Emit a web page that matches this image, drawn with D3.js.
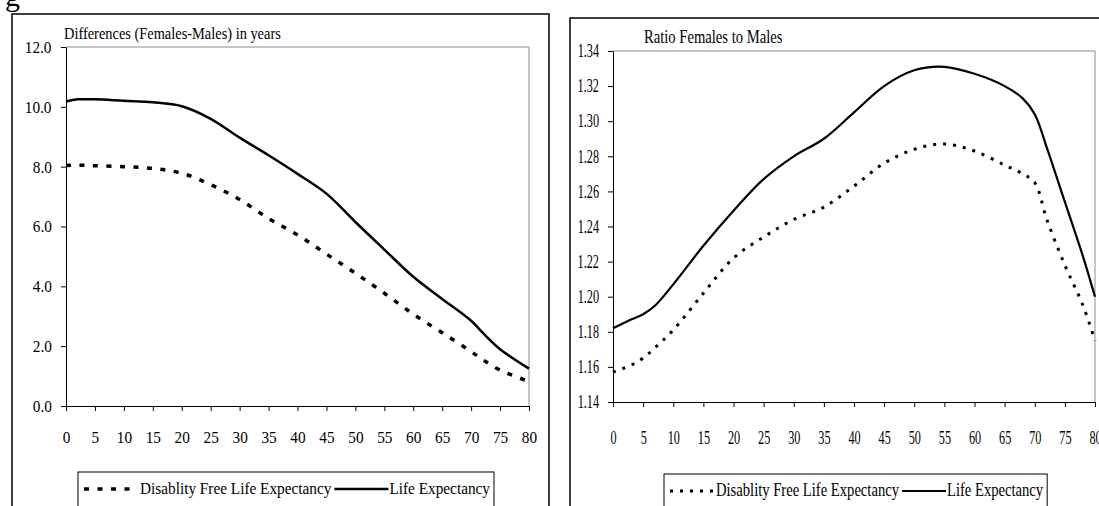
<!DOCTYPE html>
<html>
<head>
<meta charset="utf-8">
<script src="https://cdn.jsdelivr.net/npm/d3@7"></script>
<style>
  body { margin: 0; background: #fff; overflow: hidden; }
  text { font-family: "Liberation Serif", "Times New Roman", serif; fill: #000; }
  .condC { transform-box: fill-box; transform-origin: center; }
  .condL { transform-box: fill-box; transform-origin: left center; }
</style>
</head>
<body>
<div id="content"></div>
<script>
// ages (x) and values
const diffAges = [0, 2, 5, 10, 15, 20, 25, 30, 35, 40, 45, 50, 55, 60, 65, 70, 72, 75, 80];
const diffLE   = [10.18, 10.25, 10.25, 10.2, 10.15, 10.02, 9.6, 8.97, 8.38, 7.76, 7.1, 6.15, 5.23, 4.32, 3.58, 2.85, 2.45, 1.9, 1.25];
const diffDFLE = [8.04, 8.05, 8.03, 8.0, 7.94, 7.78, 7.4, 6.9, 6.27, 5.72, 5.08, 4.44, 3.77, 3.07, 2.45, 1.82, 1.55, 1.2, 0.82];

const ratioAges = [0, 3, 5, 7, 10, 15, 20, 25, 30, 35, 40, 45, 50, 55, 60, 65, 68, 70, 72, 75, 78, 80];
const ratioLE   = [1.182, 1.187, 1.190, 1.195, 1.207, 1.229, 1.249, 1.267, 1.280, 1.290, 1.305, 1.320, 1.329, 1.331, 1.327, 1.320, 1.313, 1.304, 1.285, 1.254, 1.223, 1.200];
const ratioDFLE = [1.157, 1.161, 1.165, 1.171, 1.181, 1.202, 1.222, 1.234, 1.244, 1.251, 1.263, 1.276, 1.284, 1.287, 1.283, 1.275, 1.270, 1.265, 1.244, 1.218, 1.195, 1.175];

const ageTicks = [0, 5, 10, 15, 20, 25, 30, 35, 40, 45, 50, 55, 60, 65, 70, 75, 80];
const diffTicks = [0, 2, 4, 6, 8, 10, 12];
const ratioTicks = [1.14, 1.16, 1.18, 1.20, 1.22, 1.24, 1.26, 1.28, 1.30, 1.32, 1.34];

const titles = ["Differences (Females-Males) in years", "Ratio Females to Males"];
const seriesNames = ["Disablity Free Life Expectancy", "Life Expectancy"];

const W = 1099, H = 506;

const svg = d3.select("#content").append("svg")
  .attr("width", W).attr("height", H);

svg.append("rect").attr("width", W).attr("height", H).attr("fill", "white");

// leftover glyph of the caption above
svg.append("text").attr("x", 5).attr("y", 6)
  .style("font-size", "30px").text("g");

function drawChart(c) {
  // outer frame
  svg.append("rect")
    .attr("x", c.box[0]).attr("y", c.box[1])
    .attr("width", c.box[2]).attr("height", c.box[3])
    .attr("fill", "none").attr("stroke", "#000").attr("stroke-width", 1.5);

  const x = d3.scaleLinear().domain([0, 80]).range([c.px0, c.px1]);
  const y = d3.scaleLinear().domain(c.yDomain).range([c.py0, c.py1]);

  // plot-area frame (top & right in grey)
  svg.append("path")
    .attr("d", `M${c.px0},${c.py1}H${c.px1}V${c.py0}`)
    .attr("fill", "none").attr("stroke", "#8c8c8c").attr("stroke-width", 1);

  const fs = c.fontSize + "px";

  const gy = svg.append("g").attr("transform", `translate(${c.px0},0)`)
    .call(d3.axisLeft(y).tickValues(c.yTicks).tickFormat(d3.format(c.yFmt))
      .tickSize(5).tickSizeOuter(0).tickPadding(c.yPad));
  gy.selectAll("text").style("font-size", fs).style("font-family", null)
    .attr("class", "condC").style("transform", `scaleX(${c.sxTick})`);

  const gx = svg.append("g").attr("transform", `translate(0,${c.py0})`)
    .call(d3.axisBottom(x).tickValues(ageTicks)
      .tickSize(5).tickSizeOuter(0).tickPadding(c.xPad));
  gx.selectAll("text").style("font-size", fs).style("font-family", null)
    .attr("class", "condC").style("transform", `scaleX(${c.sxTick})`);

  svg.selectAll(".domain").attr("stroke", "#000");
  svg.selectAll(".tick line").attr("stroke", "#000");

  svg.append("text").attr("x", c.titleX).attr("y", c.titleY)
    .attr("class", "condL").style("transform", `scaleX(${c.sx})`)
    .style("font-size", c.titleSize + "px").text(c.title);

  const line = d3.line()
    .x(d => x(d[0])).y(d => y(d[1]))
    .curve(d3.curveCatmullRom.alpha(0.5));

  svg.append("path")
    .datum(c.ages.map((a, i) => [a, c.dfle[i]]))
    .attr("d", line).attr("fill", "none").attr("stroke", "#000")
    .attr("stroke-width", c.dashW).attr("stroke-dasharray", c.dash);

  svg.append("path")
    .datum(c.ages.map((a, i) => [a, c.le[i]]))
    .attr("d", line).attr("fill", "none").attr("stroke", "#000")
    .attr("stroke-width", c.solidW);

  // legend
  const lg = svg.append("g");
  const box = lg.append("rect")
    .attr("x", c.legX).attr("y", c.legY).attr("height", 60)
    .attr("fill", "white").attr("stroke", "#000").attr("stroke-width", 1);
  const ly = c.legY + 17;
  let cx = c.legX + 6;
  lg.append("line").attr("x1", cx).attr("x2", cx + c.sampleW).attr("y1", ly).attr("y2", ly)
    .attr("stroke", "#000").attr("stroke-width", c.dashW).attr("stroke-dasharray", c.dash);
  cx += c.sampleW + 2;
  const t1 = lg.append("text").attr("x", cx).attr("y", ly + 5)
    .attr("class", "condL").style("transform", `scaleX(${c.sx})`)
    .style("font-size", c.legSize + "px").text(seriesNames[0]);
  cx += t1.node().getComputedTextLength() * c.sx + 3;
  lg.append("line").attr("x1", cx).attr("x2", cx + c.sampleW).attr("y1", ly).attr("y2", ly)
    .attr("stroke", "#000").attr("stroke-width", c.solidW);
  cx += c.sampleW + 1;
  const t2 = lg.append("text").attr("x", cx).attr("y", ly + 5)
    .attr("class", "condL").style("transform", `scaleX(${c.sx})`)
    .style("font-size", c.legSize + "px").text(seriesNames[1]);
  cx += t2.node().getComputedTextLength() * c.sx + 4;
  box.attr("width", cx - c.legX);
}

drawChart({
  box: [12, 14, 537, 520], px0: 66, px1: 529, py0: 406, py1: 47,
  yDomain: [0, 12], yTicks: diffTicks, yFmt: ".1f", yPad: 8, xPad: 20,
  fontSize: 17, titleSize: 16, sx: 0.9, sxTick: 0.9,
  title: titles[0], titleX: 64, titleY: 39,
  ages: diffAges, le: diffLE, dfle: diffDFLE,
  dash: "5,8.5", dashW: 3.5, solidW: 2.5,
  legX: 78, legY: 472, sampleW: 54, legSize: 17
});

drawChart({
  box: [570, 18, 560, 520], px0: 613, px1: 1095, py0: 402, py1: 51,
  yDomain: [1.14, 1.34], yTicks: ratioTicks, yFmt: ".2f", yPad: 4, xPad: 24,
  fontSize: 18, titleSize: 19, sx: 0.77, sxTick: 0.68,
  title: titles[1], titleX: 644, titleY: 43,
  ages: ratioAges, le: ratioLE, dfle: ratioDFLE,
  dash: "3,7", dashW: 3, solidW: 2.2,
  legX: 664, legY: 474, sampleW: 44, legSize: 19
});
</script>
</body>
</html>
